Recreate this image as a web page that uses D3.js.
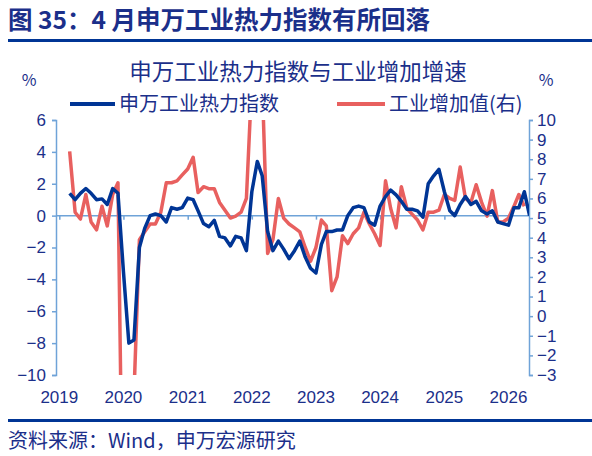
<!DOCTYPE html>
<html><head><meta charset="utf-8">
<script src="https://cdn.jsdelivr.net/npm/d3@7"></script>
<style>body{margin:0;background:#fff}svg{display:block;font-family:"Noto Sans CJK SC","Liberation Sans",sans-serif}</style>
</head><body>
<svg id="c" width="592" height="456"></svg>
<script>
const startMonth = "2019-03";
const indexValues = [1.4,1.0,1.4,1.7,1.4,1.0,1.05,0.7,1.7,1.4,
 -3.5,-8.0,-7.8,-2.0,-0.8,0.0,0.1,0.0,-0.4,0.5,0.4,0.5,1.1,1.0,
 0.3,-0.5,-0.7,-0.3,-1.3,-1.4,-1.9,-1.3,-1.4,-2.2,1.5,3.4,2.5,-1.0,
 -2.2,-1.6,-2.1,-2.7,-2.2,-1.6,-2.6,-3.3,-3.6,-1.8,-1.0,-1.0,-0.9,-0.9,
 0.0,0.5,0.6,0.5,-0.4,-0.6,0.6,1.2,1.6,1.3,0.9,0.4,0.4,0.3,-0.1,2.0,
 2.5,2.9,1.5,0.3,0.0,0.7,1.2,0.7,0.9,0.3,0.1,0.3,-0.4,-0.5,-0.6,0.5,0.5,1.5,0.0];
const ipValues = [8.4,5.3,4.95,6.2,4.8,4.4,5.6,4.6,6.2,6.8,
 -13.5,-13.5,-4.0,3.9,4.3,4.7,4.7,5.3,6.8,6.8,6.9,7.2,7.5,8.1,
 6.3,6.6,6.5,6.5,5.8,5.4,5.0,5.1,5.3,6.0,12,14,12,3.2,
 3.9,6.0,5.0,4.7,4.5,4.3,3.5,2.8,3.5,4.9,4.6,1.3,2.0,4.1,
 3.7,4.2,4.5,5.3,4.7,4.2,3.6,6.9,5.5,4.5,6.6,5.5,5.2,4.9,4.4,5.3,
 5.3,5.4,6.2,6.0,5.9,7.6,6.0,5.8,6.7,5.8,5.1,6.4,4.8,4.8,5.0,5.6,6.2,5.6];
const leftTicks = [6,4,2,0,-2,-4,-6,-8,-10];
const rightTicks = [10,9,8,7,6,5,4,3,2,1,0,-1,-2,-3];
const yearLabels = [2019,2020,2021,2022,2023,2024,2025,2026];

const navy="#1b2f8a", blue="#003595", red="#e8605f", axisC="#6fa3d8";
const svg=d3.select("#c");
const parse=d3.timeParse("%Y-%m");
const t0=parse(startMonth);
const dates=indexValues.map((d,i)=>d3.timeMonth.offset(t0,i));

const x=d3.scaleTime().domain([parse("2019-01"),parse("2026-01")]).range([59.3,508.5]);
const yL=d3.scaleLinear().domain([-10,6]).range([375,120]);
const yR=d3.scaleLinear().domain([-3,10]).range([375,120]);

svg.append("text").attr("x",8).attr("y",29).attr("fill",navy).attr("font-size",24.5).attr("font-weight","bold").text("图 35：4 月申万工业热力指数有所回落");
svg.append("rect").attr("x",8).attr("y",39).attr("width",584).attr("height",3).attr("fill",blue);
svg.append("rect").attr("x",8).attr("y",419).attr("width",584).attr("height",3).attr("fill",blue);
svg.append("text").attr("x",8).attr("y",448).attr("fill",navy).attr("font-size",20).text("资料来源：Wind，申万宏源研究");
svg.append("text").attr("x",298).attr("y",80).attr("text-anchor","middle").attr("fill",navy).attr("font-size",22.5).text("申万工业热力指数与工业增加增速");
svg.append("text").attr("x",29).attr("y",86).attr("text-anchor","middle").attr("fill",navy).attr("font-size",16).text("%");
svg.append("text").attr("x",546).attr("y",86).attr("text-anchor","middle").attr("fill",navy).attr("font-size",16).text("%");
svg.append("line").attr("x1",70).attr("x2",115).attr("y1",104).attr("y2",104).attr("stroke",blue).attr("stroke-width",4);
svg.append("text").attr("x",119).attr("y",111).attr("fill",navy).attr("font-size",20).text("申万工业热力指数");
svg.append("line").attr("x1",337).attr("x2",385).attr("y1",104).attr("y2",104).attr("stroke",red).attr("stroke-width",4);
svg.append("text").attr("x",389).attr("y",111).attr("fill",navy).attr("font-size",20).text("工业增加值(右)");

const gl=svg.append("g").attr("transform","translate(56,0)").call(d3.axisLeft(yL).tickValues(leftTicks).tickSize(4).tickPadding(6));
const gr=svg.append("g").attr("transform","translate(529,0)").call(d3.axisRight(yR).tickValues(rightTicks).tickSize(4).tickPadding(4));
const gx=svg.append("g").attr("transform",`translate(0,${yL(0)})`).call(d3.axisBottom(x).tickValues(yearLabels.map(y=>new Date(y,0,1))).tickSize(4).tickFormat(""));
gx.select(".domain").attr("d",`M56,0H529`);
[gl,gr,gx].forEach(g=>{g.selectAll("path,line").attr("stroke",axisC).attr("stroke-width",1.5);
 g.selectAll("text").attr("fill",navy).attr("font-size",17).attr("font-family","Liberation Sans, Arial, sans-serif");});
svg.selectAll(".yl").data(yearLabels).enter().append("text")
 .attr("x",d=>x(new Date(d,0,1))).attr("y",403).attr("text-anchor","middle").attr("fill",navy)
 .attr("font-size",17).attr("font-family","Liberation Sans, Arial, sans-serif").text(d=>d);

svg.append("clipPath").attr("id","clp").append("rect").attr("x",56).attr("y",120).attr("width",473).attr("height",255);
const g=svg.append("g").attr("clip-path","url(#clp)");
g.append("path").datum(ipValues).attr("fill","none").attr("stroke",red).attr("stroke-width",3.5).attr("stroke-linejoin","round")
 .attr("d",d3.line().x((d,i)=>x(dates[i])).y(d=>yR(d)));
g.append("path").datum(indexValues).attr("fill","none").attr("stroke",blue).attr("stroke-width",3.5).attr("stroke-linejoin","round")
 .attr("d",d3.line().x((d,i)=>x(dates[i])).y(d=>yL(d)));
</script></body></html>
